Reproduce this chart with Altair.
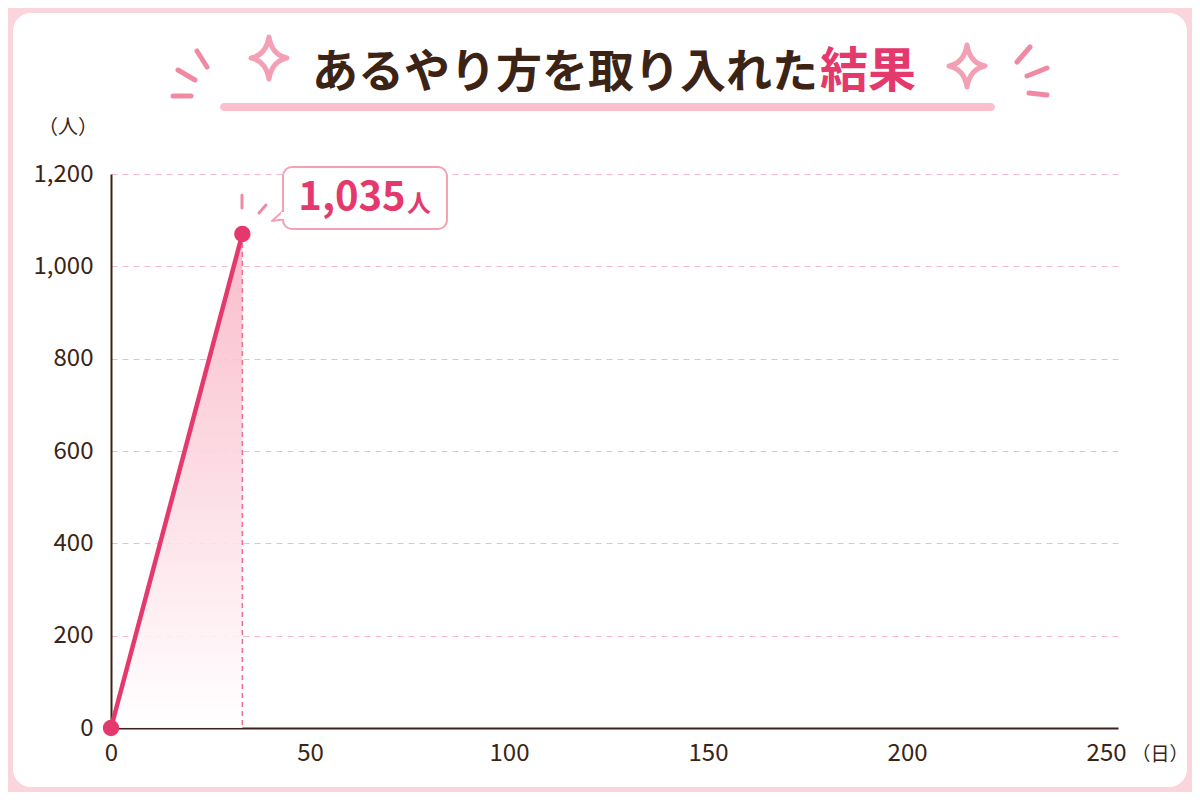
import altair as alt
import pandas as pd

# data
days = [0, 33]
people = [0, 1070]
x_ticks = [0, 50, 100, 150, 200, 250]
y_ticks = [0, 200, 400, 600, 800, 1000, 1200]

title_main = "あるやり方を取り入れた"
title_accent = "結果"
peak_label = "1,035"
peak_unit = "人"
y_unit = "（人）"
x_unit = "（日）"

PINK = "#e5396d"
SOFT = "#f29bb1"
BROWN = "#3b2416"
GRID = "#f6b9c8"
FONT = "Noto Sans CJK JP"

W, H = 1007, 554
LEFT, TOP = 103, 166


def px(x):
    # page x -> plot-area pixel
    return x - 8 - LEFT


def py(y):
    return y - 8 - TOP


df = pd.DataFrame({"days": days, "people": people, "base": [0] * len(days)})
one = pd.DataFrame({"k": [0]})

x_enc = alt.X(
    "days:Q",
    scale=alt.Scale(domain=[0, 253], nice=False),
    axis=alt.Axis(
        values=x_ticks, format="d", title=None, grid=False, ticks=False, labelFlush=False,
        labelFontSize=24, labelColor=BROWN, labelFont=FONT, labelPadding=13,
        domainColor=BROWN, domainWidth=2,
    ),
)
y_enc = alt.Y(
    "people:Q",
    scale=alt.Scale(domain=[0, 1200], nice=False),
    axis=alt.Axis(
        values=y_ticks, format=",d", title=None, ticks=False,
        labelFontSize=24, labelColor=BROWN, labelFont=FONT, labelPadding=18,
        domainColor=BROWN, domainWidth=2,
        gridColor=GRID, gridDash=[6, 5], gridWidth=1.2,
    ),
)

base = alt.Chart(df)

fill = alt.Gradient(
    gradient="linear",
    stops=[alt.GradientStop(color="#ffffff", offset=0),
           alt.GradientStop(color="#f9b4c6", offset=1)],
    x1=1, x2=1, y1=1, y2=0,
)
area = base.mark_area(color=fill, opacity=0.9).encode(x=x_enc, y=y_enc)
drop = base.mark_rule(color="#ec6f93", strokeDash=[5, 4], strokeWidth=1.5).encode(
    x="days:Q", y="people:Q", y2="base:Q"
).transform_filter("datum.days > 0")
line = base.mark_line(color=PINK, strokeWidth=4.5).encode(x="days:Q", y="people:Q")
dots = base.mark_point(filled=True, color=PINK, size=270, opacity=1).encode(
    x="days:Q", y="people:Q"
)


def rule(p1, p2, color=SOFT, width=5):
    return alt.Chart(one).mark_rule(color=color, strokeWidth=width, strokeCap="round").encode(
        x=alt.value(px(p1[0])), y=alt.value(py(p1[1])),
        x2=alt.value(px(p2[0])), y2=alt.value(py(p2[1])),
    )


def label(text, x, y, size, color=BROWN, weight="normal", align="center"):
    return alt.Chart(one).mark_text(
        text=text, font=FONT, fontSize=size, color=color, fontWeight=weight,
        align=align, baseline="middle",
    ).encode(x=alt.value(px(x)), y=alt.value(py(y)))


def shape(path, x, y, stroke, fill=None, width=4):
    opts = dict(shape=path, size=4, stroke=stroke, strokeWidth=width, opacity=1,
                strokeJoin="round", strokeCap="round")
    if fill:
        opts.update(filled=True, fill=fill)
    else:
        opts.update(filled=False)
    return alt.Chart(one).mark_point(**opts).encode(x=alt.value(px(x)), y=alt.value(py(y)))


# pink frame around the white card
frame = alt.Chart(one).mark_rect(
    fill=None, stroke="#fbd5de", strokeWidth=30, cornerRadius=33
).encode(
    x=alt.value(px(8 - 10)), x2=alt.value(px(1192 + 10)),
    y=alt.value(py(8 - 10)), y2=alt.value(py(792 + 10)),
)

underline = alt.Chart(one).mark_rect(color="#f8b9c7", cornerRadius=4, opacity=0.9).encode(
    x=alt.value(px(220)), x2=alt.value(px(995)),
    y=alt.value(py(103)), y2=alt.value(py(111)),
)

strokes = [
    ((197, 51), (207, 67)), ((178, 70), (195, 80)), ((173, 96), (191, 96)),
    ((1017, 62), (1030, 47)), ((1027, 76), (1047, 68)), ((1029, 93), (1047, 95)),
]
deco = [rule(a, b, color="#f08aa4", width=5) for a, b in strokes]

star = "M 0 -21 Q 3 -3 18 0 Q 3 3 0 21 Q -3 3 -18 0 Q -3 -3 0 -21 Z"
sparkles = [shape(star, 269, 58, "#f4a0b4", width=5), shape(star, 967, 66, "#f4a0b4", width=5)]

title = [
    label(title_main, 818, 73, 46, BROWN, "bold", "right"),
    label(title_accent, 820, 73, 48, PINK, "bold", "left"),
]

# speech bubble for the peak
bubble = alt.Chart(one).mark_rect(
    fill="white", stroke="#f4a0b5", strokeWidth=2, cornerRadius=9
).encode(
    x=alt.value(px(283)), x2=alt.value(px(447)),
    y=alt.value(py(167)), y2=alt.value(py(229)),
)
tail = shape("M 11 -10 L 0 0 L 14 -2", 272, 221, "#f4a0b5", width=2)
patch = alt.Chart(one).mark_rect(color="white").encode(
    x=alt.value(px(281)), x2=alt.value(px(286)),
    y=alt.value(py(212)), y2=alt.value(py(219)),
)
sparks = [rule((242, 195), (242, 208), "#f08aa4", 3), rule((259, 213), (266, 205), "#f08aa4", 3)]
bubble_text = [
    label(peak_label, 352, 198, 40, PINK, "bold"),
    label(peak_unit, 419, 205, 24, PINK, "bold"),
]

units = [label(y_unit, 68, 128, 20), label(x_unit, 1160, 755, 19)]

chart = alt.layer(
    area, drop, line, dots, frame, underline, *deco, *sparkles, *title,
    tail, bubble, patch, *sparks, *bubble_text, *units,
).properties(
    width=W, height=H,
    autosize=alt.AutoSizeParams(type="none"),
    padding={"left": LEFT, "top": TOP, "right": 1184 - LEFT - W, "bottom": 784 - TOP - H},
    background="white",
).configure_view(stroke=None)

chart.save("out.html", embed_options={"renderer": "svg", "actions": False})
